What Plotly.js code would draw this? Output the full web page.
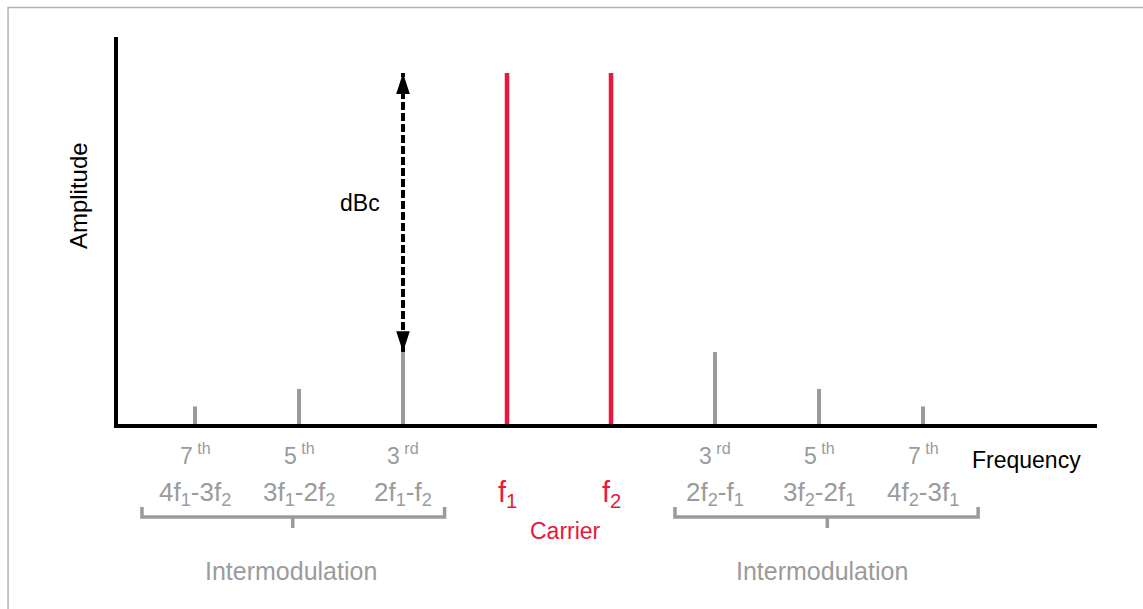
<!DOCTYPE html>
<html>
<head>
<meta charset="utf-8">
<script src="https://cdn.plot.ly/plotly-3.0.1.min.js"></script>
<style>
  html, body { margin: 0; padding: 0; background: #ffffff; }
  #chart { width: 1143px; height: 609px; }
</style>
</head>
<body>
<div id="chart"></div>
<script>
// ---- data ----
const categories = ['4f1-3f2', '3f1-2f2', '2f1-f2', 'f1', 'f2', '2f2-f1', '3f2-2f1', '4f2-3f1'];
const formulaLabels = [
  '4f<sub>1</sub>-3f<sub>2</sub>', '3f<sub>1</sub>-2f<sub>2</sub>', '2f<sub>1</sub>-f<sub>2</sub>',
  'f<sub>1</sub>', 'f<sub>2</sub>',
  '2f<sub>2</sub>-f<sub>1</sub>', '3f<sub>2</sub>-2f<sub>1</sub>', '4f<sub>2</sub>-3f<sub>1</sub>'
];
const orderLabels = ['7<sup> th</sup>', '5<sup> th</sup>', '3<sup> rd</sup>', '', '', '3<sup> rd</sup>', '5<sup> th</sup>', '7<sup> th</sup>'];
const amplitudes = [5, 10, 20.5, 100, 100, 20.5, 10, 5];
const isCarrier = [false, false, false, true, true, false, false, false];
const groupLabels = ['Intermodulation', 'Carrier', 'Intermodulation'];

// ---- styles ----
const GRAY = '#9b9b9b';
const RED = '#e8193c';
const FONT = 'Liberation Sans, Arial, sans-serif';

function stems(filter) {
  const x = [], y = [];
  categories.forEach((c, i) => {
    if (filter(i)) { x.push(c, c, null); y.push(0, amplitudes[i], null); }
  });
  return { x, y };
}
const imd = stems(i => !isCarrier[i]);
const car = stems(i => isCarrier[i]);

const traces = [
  { type: 'scatter', mode: 'lines', x: imd.x, y: imd.y, line: { color: GRAY, width: 4 }, hoverinfo: 'skip', showlegend: false },
  { type: 'scatter', mode: 'lines', x: car.x, y: car.y, line: { color: RED, width: 4.5 }, hoverinfo: 'skip', showlegend: false },
  { type: 'scatter', mode: 'lines+markers',
    x: [categories[2], categories[2]], y: [amplitudes[2], amplitudes[3]],
    line: { color: '#000', width: 4, dash: '8px,3px' },
    marker: { symbol: 'arrow', size: 22, angle: [180, 0], color: '#000' },
    hoverinfo: 'skip', showlegend: false }
];

const annotations = [];
function ann(o) {
  annotations.push(Object.assign({ showarrow: false, xanchor: 'center', yanchor: 'middle' }, o));
}
categories.forEach((c, i) => {
  if (orderLabels[i]) {
    ann({ xref: 'x', yref: 'paper', x: c, y: -0.078, text: orderLabels[i],
      font: { family: FONT, size: 23, color: GRAY } });
  }
  ann({ xref: 'x', yref: 'paper', x: c, y: -0.18, text: formulaLabels[i],
    font: { family: FONT, size: isCarrier[i] ? 29 : 26, color: isCarrier[i] ? RED : GRAY } });
});
ann({ xref: 'x', yref: 'paper', x: 0.92, y: -0.38, text: groupLabels[0], font: { family: FONT, size: 25, color: GRAY } });
ann({ xref: 'x', yref: 'paper', x: 3.56, y: -0.277, text: groupLabels[1], font: { family: FONT, size: 23, color: RED } });
ann({ xref: 'x', yref: 'paper', x: 6.03, y: -0.38, text: groupLabels[2], font: { family: FONT, size: 25, color: GRAY } });
ann({ xref: 'x', yref: 'y', x: 1.59, y: 63, text: 'dBc', font: { family: FONT, size: 23, color: '#000' } });
ann({ xref: 'paper', yref: 'paper', x: 0.8705, xanchor: 'left', y: -0.094, text: 'Frequency', font: { family: FONT, size: 23, color: '#000' } });
ann({ xref: 'paper', yref: 'paper', x: -0.0408, y: 0.589, textangle: -90, text: 'Amplitude', font: { family: FONT, size: 24, color: '#000' } });

function bracket(x0, xc, x1) {
  const yTop = -0.2145, yH = -0.2405, yBot = -0.2685;
  return { type: 'path', xref: 'x', yref: 'paper',
    path: `M${x0},${yTop} L${x0},${yH} L${x1},${yH} L${x1},${yTop} M${xc},${yH} L${xc},${yBot}`,
    line: { color: GRAY, width: 3.5 } };
}

const layout = {
  width: 1143, height: 609,
  margin: { l: 118, r: 46, t: 37, b: 185 },
  paper_bgcolor: '#ffffff', plot_bgcolor: '#ffffff',
  font: { family: FONT },
  xaxis: { type: 'category', categoryorder: 'array', categoryarray: categories,
    range: [-0.7404, 8.673], showline: true, linecolor: '#000', linewidth: 4,
    showticklabels: false, ticks: '', showgrid: false, zeroline: false, fixedrange: true },
  yaxis: { range: [0, 110.26], showline: true, linecolor: '#000', linewidth: 4,
    showticklabels: false, ticks: '', showgrid: false, zeroline: false, fixedrange: true },
  annotations: annotations,
  shapes: [
    bracket(-0.51, 0.94, 2.40),
    bracket(4.615, 6.08, 7.53),
    { type: 'rect', xref: 'paper', yref: 'paper', x0: -0.1123, x1: 1.2, y0: -0.6, y1: 1.0762,
      line: { color: '#b4b4b4', width: 1.5 }, layer: 'below' }
  ],
  showlegend: false
};

Plotly.newPlot('chart', traces, layout, { displayModeBar: false, staticPlot: true });
</script>
</body>
</html>
